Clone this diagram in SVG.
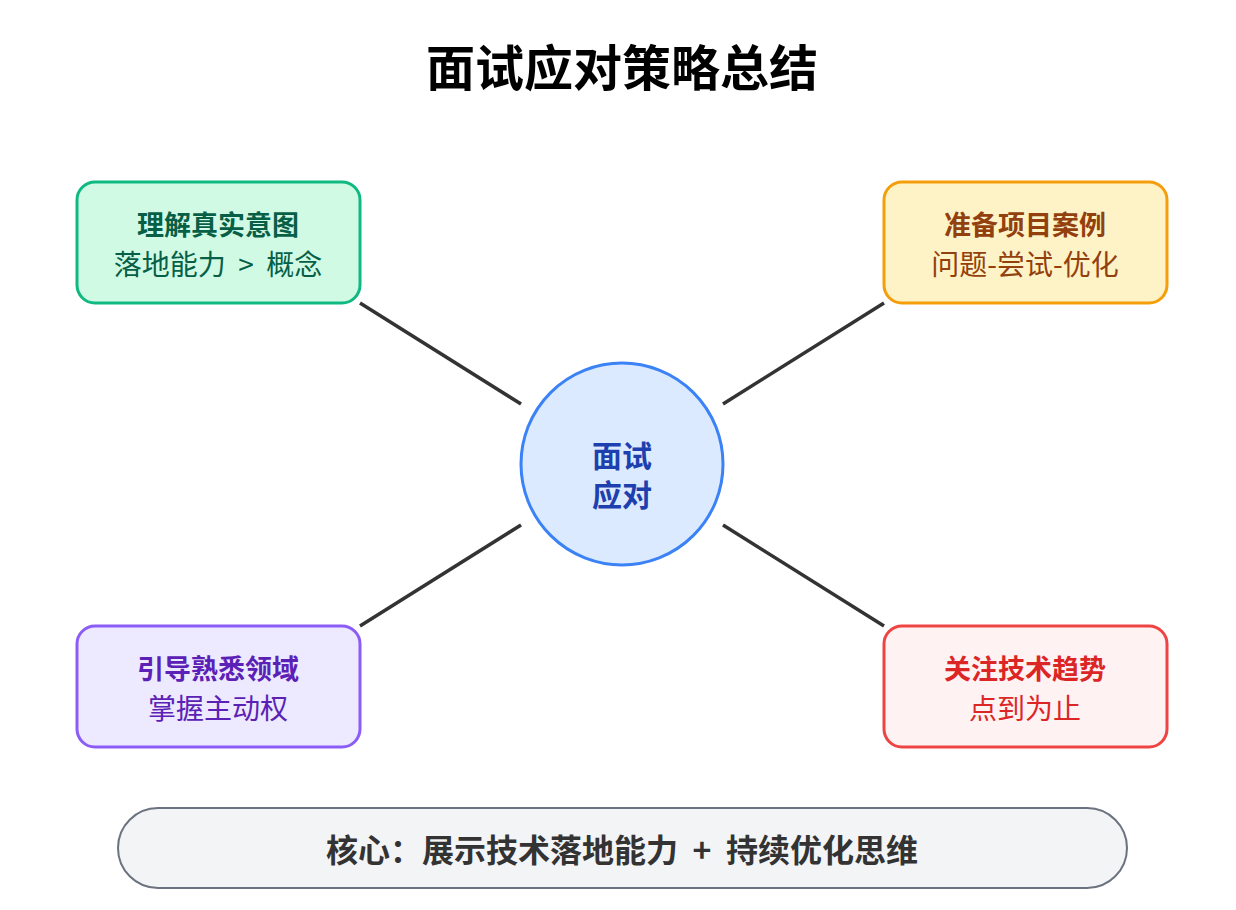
<svg xmlns="http://www.w3.org/2000/svg" width="1236" height="910" viewBox="0 0 1236 910">
<style>
text{font-family:"Noto Sans CJK SC","Noto Sans",sans-serif;text-anchor:middle;dominant-baseline:central;white-space:pre}
.b{stroke-width:3}
.t{font-size:27px;font-weight:bold}
.s{font-size:28px}
.c{stroke:#333;stroke-width:3.5}
</style>
<rect width="1236" height="910" fill="#fff"/>
<text x="622" y="64" font-size="49" font-weight="bold" fill="#000">面试应对策略总结</text>
<g id="connectors">
<line class="c" x1="360" y1="303" x2="521" y2="404"/>
<line class="c" x1="884" y1="303" x2="723" y2="404"/>
<line class="c" x1="360" y1="626" x2="521" y2="525"/>
<line class="c" x1="884" y1="626" x2="723" y2="525"/>
</g>
<g id="center">
<circle cx="622" cy="464" r="101" fill="#dbeafe" stroke="#3b82f6" class="b"/>
<text x="622" y="454" font-size="30" font-weight="bold" fill="#1e40af">面试</text>
<text x="622" y="493" font-size="30" font-weight="bold" fill="#1e40af">应对</text>
</g>
<g id="n1">
<rect x="77" y="182" width="283" height="121" rx="18" fill="#d1fae5" stroke="#10b981" class="b"/>
<text x="218" y="223" class="t" fill="#065f46">理解真实意图</text>
<text x="218" y="263" class="s" fill="#065f46">落地能力  &gt;  概念</text>
</g>
<g id="n2">
<rect x="884" y="182" width="283" height="121" rx="18" fill="#fef3c7" stroke="#f59e0b" class="b"/>
<text x="1025" y="223" class="t" fill="#92400e">准备项目案例</text>
<text x="1025" y="263" class="s" fill="#92400e">问题-尝试-优化</text>
</g>
<g id="n3">
<rect x="77" y="626" width="283" height="121" rx="18" fill="#ede9fe" stroke="#8b5cf6" class="b"/>
<text x="218" y="667" class="t" fill="#5b21b6">引导熟悉领域</text>
<text x="218" y="707" class="s" fill="#5b21b6">掌握主动权</text>
</g>
<g id="n4">
<rect x="884" y="626" width="283" height="121" rx="18" fill="#fef2f2" stroke="#ef4444" class="b"/>
<text x="1025" y="667" class="t" fill="#dc2626">关注技术趋势</text>
<text x="1025" y="707" class="s" fill="#dc2626">点到为止</text>
</g>
<g id="core">
<rect x="118" y="808" width="1009" height="80" rx="40" fill="#f3f4f6" stroke="#6b7280" stroke-width="2"/>
<text x="622" y="848" font-size="32" font-weight="bold" fill="#333">核心：展示技术落地能力  +  持续优化思维</text>
</g>
</svg>
